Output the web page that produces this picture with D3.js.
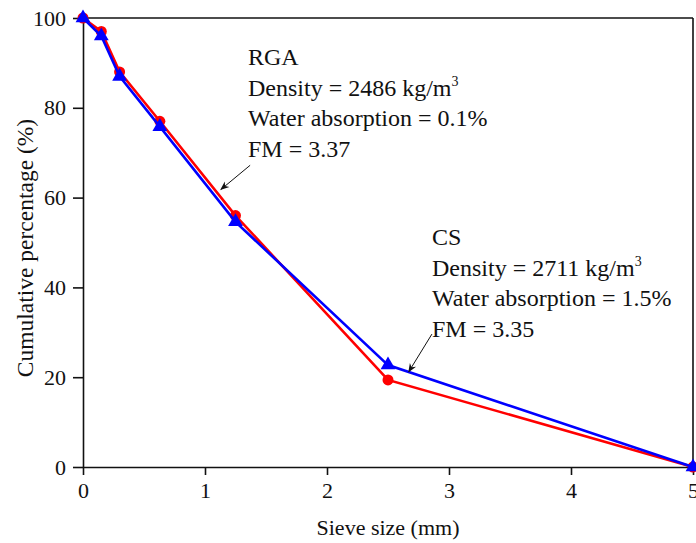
<!DOCTYPE html>
<html>
<head>
<meta charset="utf-8">
<script src="https://cdn.jsdelivr.net/npm/d3@7"></script>
<style>
  body { margin: 0; background: #fff; }
  text { font-family: "Liberation Serif", "Times New Roman", serif; fill: #111; }
</style>
</head>
<body>
<div id="chart"></div>
<script>
// sieve sizes (mm) and cumulative passing (%)
var sieve = [0, 0.15, 0.3, 0.63, 1.25, 2.5, 5]
var rga = [100, 97, 88, 77, 56, 19.4, 0]
var cs = [100, 96, 87, 75.8, 54.6, 22.7, 0]

var xTicks = [0, 1, 2, 3, 4, 5]
var yTicks = [0, 20, 40, 60, 80, 100]

var rgaNotes = ["RGA", "Density = 2486 kg/m", "Water absorption = 0.1%", "FM = 3.37"]
var csNotes = ["CS", "Density = 2711 kg/m", "Water absorption = 1.5%", "FM = 3.35"]

var W = 696, H = 543
var m = { left: 83, right: 3, top: 18, bottom: 76 }

var svg = d3.select("#chart").append("svg")
  .attr("width", W)
  .attr("height", H)

var x = d3.scaleLinear().domain([0, 5]).range([m.left, W - m.right])
var y = d3.scaleLinear().domain([0, 100]).range([H - m.bottom, m.top])

// frame (top + right)
svg.append("line")
  .attr("x1", x(0)).attr("x2", x(5)).attr("y1", y(100)).attr("y2", y(100))
  .attr("stroke", "#111").attr("stroke-width", 1.6)
svg.append("line")
  .attr("x1", x(5)).attr("x2", x(5)).attr("y1", y(100)).attr("y2", y(0))
  .attr("stroke", "#111").attr("stroke-width", 1.6)

// x axis with minor ticks
var xMinor = d3.range(0, 5.001, 0.2).filter(v => Math.abs(v - Math.round(v)) > 1e-6)
var gx = svg.append("g").attr("transform", `translate(0,${y(0)})`)
gx.call(d3.axisBottom(x).tickValues(xMinor).tickSize(5).tickFormat(""))
gx.call(d3.axisBottom(x).tickValues(xTicks).tickSize(8).tickSizeOuter(0).tickPadding(7).tickFormat(d3.format("d")))
gx.selectAll("path.domain").attr("stroke", "#111").attr("stroke-width", 1.6)
gx.selectAll("line").attr("stroke", "#111").attr("stroke-width", 1.6)
gx.selectAll("text").style("font-size", "22px").style("font-family", "Liberation Serif")

var gy = svg.append("g").attr("transform", `translate(${x(0)},0)`)
gy.call(d3.axisLeft(y).tickValues(yTicks).tickSize(10).tickSizeOuter(0).tickPadding(7))
gy.selectAll("path.domain").attr("stroke", "#111").attr("stroke-width", 1.6)
gy.selectAll("line").attr("stroke", "#111").attr("stroke-width", 1.6)
gy.selectAll("text").style("font-size", "22px").style("font-family", "Liberation Serif")

// axis titles
svg.append("text")
  .attr("x", (x(0) + x(5)) / 2).attr("y", 535)
  .attr("text-anchor", "middle").style("font-size", "22px")
  .text("Sieve size (mm)")
svg.append("text")
  .attr("transform", `translate(33,248) rotate(-90)`)
  .attr("text-anchor", "middle").style("font-size", "23.5px")
  .text("Cumulative percentage (%)")

// series
var line = d3.line().x((d, i) => x(sieve[i])).y(d => y(d))

svg.append("path").datum(rga)
  .attr("d", line).attr("fill", "none").attr("stroke", "#ff0000").attr("stroke-width", 2.6)
svg.append("g").selectAll("circle").data(rga).join("circle")
  .attr("cx", (d, i) => x(sieve[i])).attr("cy", d => y(d)).attr("r", 5.5)
  .attr("fill", "#ff0000")

svg.append("path").datum(cs)
  .attr("d", line).attr("fill", "none").attr("stroke", "#0000ff").attr("stroke-width", 2.6)
var tri = d3.symbol().type(d3.symbolTriangle).size(95)
svg.append("g").selectAll("path").data(cs).join("path")
  .attr("d", tri)
  .attr("transform", (d, i) => `translate(${x(sieve[i])},${y(d)})`)
  .attr("fill", "#0000ff")

// annotations
function notes(lines, px, py) {
  var t = svg.append("g")
  lines.forEach(function (s, i) {
    var tx = t.append("text").attr("x", px).attr("y", py + i * 30.5).style("font-size", "24px").text(s)
    if (i === 1) tx.append("tspan").attr("dy", -10).style("font-size", "14px").text("3")
  })
}
notes(rgaNotes, 248, 65)
notes(csNotes, 432, 245)

// arrows
svg.append("defs").append("marker")
  .attr("id", "ah").attr("viewBox", "0 0 10 10").attr("refX", 9).attr("refY", 5)
  .attr("markerWidth", 9).attr("markerHeight", 9).attr("orient", "auto")
  .append("path").attr("d", "M0,1 L10,5 L0,9 L3,5 Z").attr("fill", "#111")

svg.append("line")
  .attr("x1", x(1.37)).attr("y1", y(67.2)).attr("x2", x(1.13)).attr("y2", y(61.8))
  .attr("stroke", "#111").attr("stroke-width", 1).attr("marker-end", "url(#ah)")
svg.append("line")
  .attr("x1", x(2.86)).attr("y1", y(29.6)).attr("x2", x(2.67)).attr("y2", y(21.2))
  .attr("stroke", "#111").attr("stroke-width", 1).attr("marker-end", "url(#ah)")
</script>
</body>
</html>
